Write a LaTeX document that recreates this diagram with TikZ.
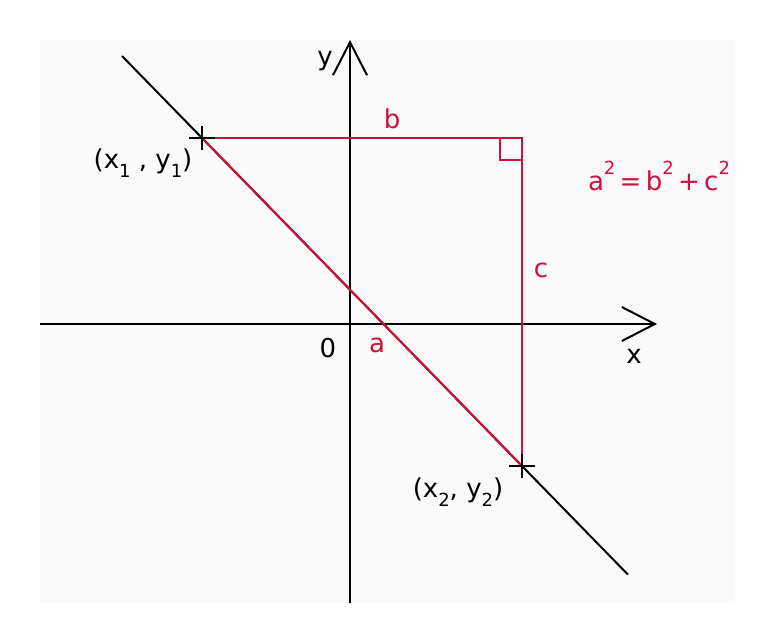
\documentclass[tikz,border=0pt]{standalone}
\usepackage{fontspec}
\setmainfont{DejaVu Sans}
\usetikzlibrary{arrows.meta,calc}
\definecolor{redline}{RGB}{206,16,58}
\definecolor{bgpanel}{RGB}{250,250,250}
\newcommand\mylow[1]{\raisebox{-0.32em}{\fontsize{18}{20}\selectfont #1}}
\newcommand\myhigh[1]{\raisebox{0.62em}{\fontsize{18}{20}\selectfont #1}}
\begin{document}
\begin{tikzpicture}[x=1pt,y=-1pt,
  axis/.style={draw=black,line width=2pt,-{Straight Barb[length=33pt,width=34pt,line width=2pt]}},
  blackline/.style={draw=black,line width=2pt},
  redseg/.style={draw=redline,line width=2pt},
  lbl/.style={inner sep=0pt,font=\fontsize{26}{30}\selectfont},
  redlbl/.style={lbl,text=redline},
  cross/.style={draw=black,line width=2.6pt}]
\useasboundingbox (0,0) rectangle (775,644);
\fill[bgpanel] (40,40) rectangle (735,603);
% coordinates
\coordinate (xs) at (40,324);
\coordinate (xe) at (657,324);
\coordinate (ys) at (350,603);
\coordinate (ye) at (350,40);
\coordinate (p1) at (202,138);
\coordinate (p2) at (522,466);
\coordinate (ls) at ($(p1)!-0.25!(p2)$);
\coordinate (le) at ($(p1)!1.331!(p2)$);
\coordinate (rc) at (522,138);
% axes
\draw[axis] (xs) -- (xe);
\draw[axis] (ys) -- (ye);
% black line
\draw[blackline] (ls) -- (le);
% red triangle
\draw[redseg] (p1) -- (rc) -- (p2);
\draw[redseg] (p1) -- (p2);
\draw[redseg] ([xshift=-22pt]rc) -- ++(0,22) -- ++(22,0);
% crosses
\draw[cross] ([xshift=-13pt]p1) -- ([xshift=13pt]p1);
\draw[cross] ([yshift=-12pt]p1) -- ([yshift=12pt]p1);
\draw[cross] ([xshift=-13pt]p2) -- ([xshift=13pt]p2);
\draw[cross] ([yshift=-12pt]p2) -- ([yshift=12pt]p2);
% labels
\node[lbl] (ylab) at (325,61) {y};
\node[lbl] (xlab) at (634,356) {x};
\node[lbl] (olab) at (328,348) {0};
\node[redlbl] (alab) at (377,345) {a};
\node[redlbl] (blab) at (392,119) {b};
\node[redlbl] (clab) at (541,270) {c};
\node[redlbl] (eq) at (659,176) {a\myhigh{2}\,=\,b\myhigh{2}\,+\,c\myhigh{2}};
\node[lbl] (p1lab) at (143,163) {(x\mylow{1} , y\mylow{1})};
\node[lbl] (p2lab) at (458,492) {(x\mylow{2}, y\mylow{2})};
\end{tikzpicture}
\end{document}
